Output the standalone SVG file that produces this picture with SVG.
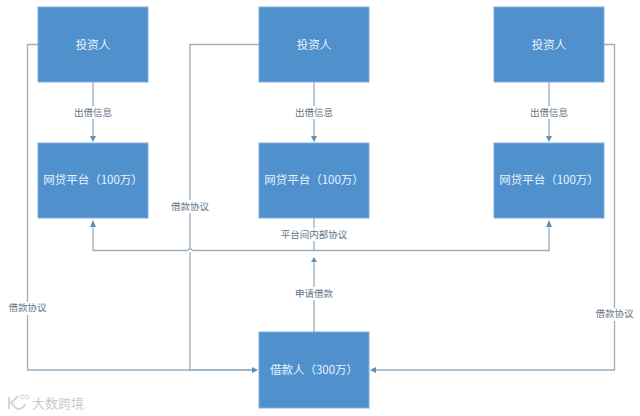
<svg xmlns="http://www.w3.org/2000/svg" width="640" height="416" viewBox="0 0 640 416">
<style>
.box{fill:#5090cd;stroke:#7fb0dc;stroke-width:1}
.t{font-family:"Noto Sans CJK SC","Liberation Sans",sans-serif;font-size:11.500px;fill:#eaf3fb;text-anchor:middle}
.l{font-family:"Noto Sans CJK SC","Liberation Sans",sans-serif;font-size:9.500px;fill:#5f7488;text-anchor:middle}
.c{fill:none;stroke:#9aafc0;stroke-width:1.3}
.bg{fill:#fff}
.a{fill:#5f8fb5}
</style>
<rect width="640" height="416" fill="#fff"/>
<g id="connectors">
<path class="c" d="M38 44.500H27.500V370H255"/>
<path class="c" d="M259 44.500H190V248M190 252V370H255"/>
<path class="c" d="M187.500 250.500Q190 247 192.500 250.500"/>
<path class="c" d="M604 44.500H614.500V370H373"/>
<path class="c" d="M93 82V138"/>
<path class="c" d="M314 82V138"/>
<path class="c" d="M549 82V138"/>
<path class="c" d="M93 225V250.500H187.500M192.500 250.500H549V225"/>
<path class="c" d="M314 218V250"/>
<path class="c" d="M314 332V262"/>
<polygon class="a" points="90,136 96,136 93,142"/>
<polygon class="a" points="311,136 317,136 314,142"/>
<polygon class="a" points="546,136 552,136 549,142"/>
<polygon class="a" points="90,227 96,227 93,220"/>
<polygon class="a" points="546,227 552,227 549,220"/>
<polygon class="a" points="311,262 317,262 314,257"/>
<polygon class="a" points="252,367 258,370 252,373"/>
<polygon class="a" points="376,367 370,370 376,373"/>
</g>
<g id="investor1"><rect class="box" x="38" y="7" width="110" height="75"/><text class="t" x="93" y="49">投资人</text></g>
<g id="investor2"><rect class="box" x="259" y="7" width="110" height="75"/><text class="t" x="314" y="49">投资人</text></g>
<g id="investor3"><rect class="box" x="494" y="7" width="110" height="75"/><text class="t" x="549" y="49">投资人</text></g>
<g id="platform1"><rect class="box" x="38" y="143" width="110" height="75"/><text class="t" x="93" y="184">网贷平台（100万）</text></g>
<g id="platform2"><rect class="box" x="259" y="143" width="110" height="75"/><text class="t" x="314" y="184">网贷平台（100万）</text></g>
<g id="platform3"><rect class="box" x="494" y="143" width="110" height="75"/><text class="t" x="549" y="184">网贷平台（100万）</text></g>
<g id="borrower"><rect class="box" x="259" y="332" width="110" height="76"/><text class="t" x="314" y="374">借款人（300万）</text></g>
<g id="labels">
<rect class="bg" x="72" y="106" width="42" height="13"/><text class="l" x="93" y="116">出借信息</text>
<rect class="bg" x="293" y="106" width="42" height="13"/><text class="l" x="314" y="116">出借信息</text>
<rect class="bg" x="528" y="106" width="42" height="13"/><text class="l" x="549" y="116">出借信息</text>
<rect class="bg" x="170" y="200" width="40" height="13"/><text class="l" x="190" y="210">借款协议</text>
<rect class="bg" x="278" y="228" width="72" height="13"/><text class="l" x="314" y="238">平台间内部协议</text>
<rect class="bg" x="294" y="287" width="40" height="13"/><text class="l" x="314" y="297">申请借款</text>
<rect class="bg" x="8" y="302" width="40" height="13"/><text class="l" x="27.500" y="311">借款协议</text>
<rect class="bg" x="595" y="308" width="40" height="13"/><text class="l" x="614.500" y="317">借款协议</text>
</g>
<g id="watermark" opacity="0.75">
<path d="M9 397V409M18 396L11 403L17 409Q24 409 25 404" fill="none" stroke="#c4c9cc" stroke-width="2"/>
<circle cx="22" cy="397" r="2" fill="none" stroke="#c4c9cc"/><circle cx="27" cy="397" r="2" fill="none" stroke="#c4c9cc"/>
<text x="32" y="408" font-family="'Noto Sans CJK SC',sans-serif" font-size="13" fill="#b4babd">大数跨境</text>
</g>
</svg>
